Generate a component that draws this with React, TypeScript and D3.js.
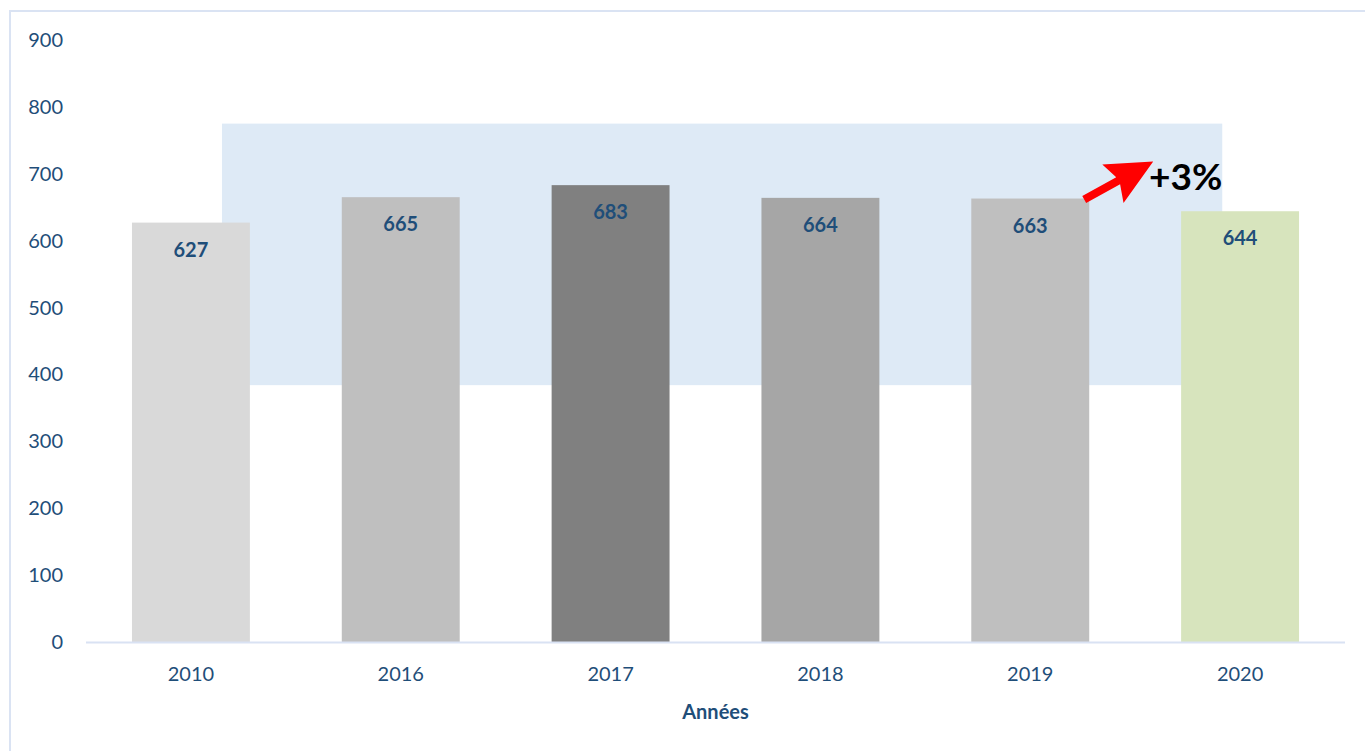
import React from "react";
import * as d3 from "d3";

const years = ["2010", "2016", "2017", "2018", "2019", "2020"];
const values = [627, 665, 683, 664, 663, 644];
const barColors = ["#D9D9D9", "#BFBFBF", "#808080", "#A6A6A6", "#BFBFBF", "#D7E4BD"];
const yTicks = [0, 100, 200, 300, 400, 500, 600, 700, 800, 900];
// highlight box: category-index span and value span
const highlightIdx = [0.648, 5.415];
const highlightVal = [384, 775];
const growthLabel = "+3%";
const xTitle = "Années";

const W = 1365;
const H = 751;
const left = 86;
const right = 1345;
const top = 40;
const bottom = 642;
const font = "Lato, 'Open Sans', sans-serif";
const blue = "#1F4E79";

export default function App() {
  const x = d3
    .scaleBand<string>()
    .domain(years)
    .range([left, right])
    .paddingInner(0.438)
    .paddingOuter(0.219);
  const y = d3.scaleLinear().domain([0, 900]).range([bottom, top]);
  const idx = d3.scaleLinear().domain([0, years.length]).range([left, right]);
  const bw = x.bandwidth();

  // arrow from the top right of the 2019 bar toward the growth label
  const tail: [number, number] = [x("2019")! + bw - 5, y(values[4]) + 1];
  const tip: [number, number] = [tail[0] + 69, tail[1] - 38];
  const dx = tip[0] - tail[0];
  const dy = tip[1] - tail[1];
  const len = Math.hypot(dx, dy);
  const ux = dx / len;
  const uy = dy / len;
  const nx = -uy;
  const ny = ux;
  const headLen = 46;
  const headW = 22;
  const shaftW = 4;
  const notch = 6;
  const pt = (a: number, b: number) => [tail[0] + ux * a + nx * b, tail[1] + uy * a + ny * b];
  const arrowPts = [
    pt(0, -shaftW),
    pt(len - headLen + notch, -shaftW),
    pt(len - headLen, -headW),
    pt(len, 0),
    pt(len - headLen, headW),
    pt(len - headLen + notch, shaftW),
    pt(0, shaftW),
  ]
    .map((p) => p.join(","))
    .join(" ");

  return (
    <svg
      width={W}
      height={H}
      style={{ position: "absolute", left: 0, top: 0, background: "#fff" }}
      fontFamily={font}
    >
      <rect x={10} y={11} width={1400} height={800} fill="none" stroke="#DAE3F3" strokeWidth={2} />

      <rect
        x={idx(highlightIdx[0])}
        y={y(highlightVal[1])}
        width={idx(highlightIdx[1]) - idx(highlightIdx[0])}
        height={y(highlightVal[0]) - y(highlightVal[1])}
        fill="#DEEAF6"
      />

      {yTicks.map((t) => (
        <text key={t} x={63} y={y(t)} dy="0.35em" textAnchor="end" fontSize={20} fill={blue}>
          {t}
        </text>
      ))}

      {years.map((yr, i) => (
        <g key={yr}>
          <rect x={x(yr)} y={y(values[i])} width={bw} height={bottom - y(values[i])} fill={barColors[i]} />
          <text
            x={x(yr)! + bw / 2}
            y={y(values[i]) + 34}
            textAnchor="middle"
            fontSize={20}
            fontWeight="bold"
            fill={blue}
          >
            {values[i]}
          </text>
          <text x={x(yr)! + bw / 2} y={bottom + 39} textAnchor="middle" fontSize={20} fill={blue}>
            {yr}
          </text>
        </g>
      ))}

      <line x1={left} x2={right} y1={bottom + 0.5} y2={bottom + 0.5} stroke="#D9E2F3" strokeWidth={2} />

      <polygon points={arrowPts} fill="#FF0000" />
      <text
        x={idx(highlightIdx[1])}
        y={tip[1] + 28}
        textAnchor="end"
        fontSize={37}
        fontWeight="bold"
        fill="#000"
      >
        {growthLabel}
      </text>

      <text x={(left + right) / 2} y={bottom + 77} textAnchor="middle" fontSize={20} fontWeight="bold" fill={blue}>
        {xTitle}
      </text>
    </svg>
  );
}
